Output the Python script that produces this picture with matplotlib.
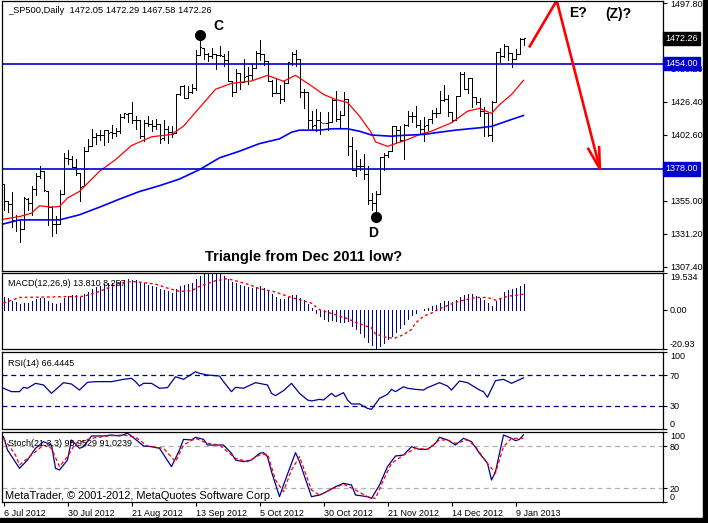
import matplotlib
matplotlib.use('Agg')
from matplotlib import pyplot as plt
from matplotlib.patches import Rectangle
import numpy as np

plt.rcParams['font.family'] = ['Liberation Sans', 'DejaVu Sans']

FIG_W, FIG_H = 708, 523

## daily bars, 6 Jul 2012 .. 11 Jan 2013
opens = [1367.09, 1354.66, 1352.96, 1341.40, 1341.29, 1334.81, 1356.50, 1353.68, 1363.58, 1373.01,
         1376.51, 1362.34, 1350.52, 1338.35, 1338.17, 1360.05, 1385.94, 1385.27, 1379.32, 1375.13,
         1365.45, 1391.04, 1394.46, 1401.23, 1402.26, 1402.58, 1405.87, 1404.36, 1403.89, 1405.57,
         1415.84, 1417.85, 1418.13, 1413.09, 1413.49, 1401.99, 1411.13, 1410.44, 1409.32, 1410.08,
         1400.07, 1406.54, 1404.94, 1403.74, 1432.12, 1437.92, 1429.13, 1433.56, 1436.56, 1460.07,
         1465.42, 1461.19, 1459.50, 1461.05, 1460.34, 1459.76, 1456.94, 1441.60, 1433.36, 1447.13,
         1440.90, 1444.99, 1446.05, 1451.08, 1461.40, 1460.93, 1455.90, 1441.48, 1432.82, 1432.84,
         1428.75, 1440.31, 1454.22, 1460.94, 1457.34, 1433.21, 1433.74, 1413.20, 1409.74, 1412.97,
         1411.50, 1410.99, 1412.20, 1427.59, 1414.02, 1417.26, 1428.27, 1394.53, 1377.55, 1379.86,
         1380.03, 1374.64, 1355.41, 1353.36, 1359.88, 1386.82, 1387.79, 1391.03, 1409.15, 1406.29,
         1398.77, 1409.96, 1415.95, 1416.34, 1409.46, 1407.05, 1409.43, 1413.95, 1418.07, 1418.55,
         1427.84, 1428.48, 1419.45, 1413.54, 1430.47, 1446.79, 1435.81, 1443.67, 1430.15, 1426.66,
         1419.83, 1418.10, 1402.43, 1426.19, 1462.42, 1459.37, 1466.47, 1461.89, 1457.15, 1461.02,
         1472.05]
highs = [1367.09, 1354.87, 1361.54, 1345.00, 1341.29, 1357.70, 1357.26, 1365.36, 1375.26, 1380.39,
         1376.51, 1362.34, 1351.53, 1343.98, 1363.13, 1389.19, 1391.74, 1387.16, 1385.03, 1375.13,
         1394.16, 1399.63, 1407.14, 1404.14, 1405.95, 1405.98, 1405.87, 1410.03, 1407.73, 1417.44,
         1418.71, 1418.13, 1426.68, 1416.12, 1413.49, 1413.46, 1416.17, 1413.63, 1413.95, 1410.08,
         1413.09, 1409.31, 1408.81, 1432.12, 1437.92, 1438.74, 1437.76, 1439.15, 1463.76, 1474.51,
         1465.63, 1461.47, 1465.15, 1461.23, 1467.07, 1460.72, 1463.24, 1441.60, 1450.20, 1447.13,
         1457.14, 1451.52, 1454.30, 1463.14, 1470.96, 1460.93, 1455.90, 1442.52, 1443.90, 1438.43,
         1441.31, 1455.51, 1462.20, 1464.02, 1457.34, 1435.46, 1433.74, 1420.04, 1421.12, 1418.82,
         1411.50, 1418.76, 1428.35, 1434.27, 1419.90, 1433.38, 1428.27, 1401.23, 1391.39, 1384.87,
         1388.81, 1380.13, 1360.62, 1362.03, 1386.89, 1389.77, 1391.25, 1409.16, 1409.15, 1409.01,
         1410.31, 1419.70, 1418.86, 1423.73, 1413.14, 1415.56, 1413.95, 1420.34, 1421.64, 1434.27,
         1438.59, 1431.36, 1419.45, 1430.67, 1448.00, 1447.75, 1443.70, 1443.67, 1430.15, 1429.42,
         1422.80, 1418.10, 1426.74, 1462.43, 1465.47, 1467.94, 1466.47, 1461.89, 1464.73, 1472.30,
         1472.29]
lows = [1348.03, 1346.65, 1336.27, 1333.25, 1325.41, 1334.81, 1348.51, 1345.07, 1358.96, 1371.21,
        1362.19, 1337.56, 1329.24, 1331.50, 1338.17, 1360.05, 1381.37, 1379.17, 1373.35, 1354.65,
        1365.45, 1391.04, 1394.46, 1396.13, 1398.80, 1395.62, 1397.32, 1400.60, 1401.83, 1404.15,
        1414.67, 1412.12, 1410.86, 1406.78, 1400.50, 1398.04, 1409.11, 1405.59, 1406.57, 1397.01,
        1398.96, 1396.56, 1401.25, 1403.74, 1431.45, 1428.98, 1429.13, 1432.99, 1435.34, 1460.07,
        1457.55, 1456.13, 1457.88, 1449.98, 1459.51, 1452.06, 1441.59, 1430.53, 1433.36, 1435.60,
        1440.90, 1439.01, 1441.99, 1451.08, 1456.89, 1453.10, 1441.18, 1430.64, 1432.82, 1425.53,
        1427.24, 1440.31, 1453.35, 1452.63, 1429.85, 1422.06, 1407.56, 1407.10, 1405.14, 1403.28,
        1411.50, 1405.95, 1412.20, 1412.91, 1408.13, 1417.26, 1388.14, 1377.51, 1373.03, 1377.19,
        1370.78, 1352.50, 1348.05, 1343.35, 1359.88, 1377.04, 1386.39, 1391.03, 1397.68, 1398.03,
        1385.43, 1409.04, 1411.63, 1408.46, 1403.65, 1398.23, 1405.93, 1410.90, 1415.64, 1418.55,
        1426.76, 1416.00, 1411.88, 1413.54, 1430.47, 1435.80, 1432.82, 1422.58, 1424.66, 1416.43,
        1401.80, 1401.58, 1398.11, 1426.19, 1455.53, 1458.99, 1456.62, 1451.64, 1457.15, 1461.02,
        1467.58]
closes = [1354.68, 1352.46, 1341.47, 1341.45, 1334.76, 1356.78, 1353.64, 1363.67, 1372.78, 1376.51,
          1362.66, 1350.52, 1338.31, 1337.89, 1360.02, 1385.97, 1385.30, 1379.32, 1375.32, 1365.00,
          1390.99, 1394.23, 1401.35, 1402.22, 1402.80, 1405.87, 1404.11, 1403.93, 1405.53, 1415.51,
          1418.16, 1418.13, 1413.17, 1413.49, 1402.08, 1411.13, 1410.44, 1409.30, 1410.49, 1399.48,
          1406.58, 1404.94, 1403.44, 1432.12, 1437.92, 1429.08, 1433.56, 1436.56, 1459.99, 1465.77,
          1461.19, 1459.32, 1461.05, 1460.26, 1460.15, 1456.89, 1441.59, 1433.32, 1447.15, 1440.67,
          1444.49, 1445.75, 1450.99, 1461.40, 1460.93, 1455.88, 1441.48, 1432.56, 1432.84, 1428.59,
          1440.13, 1454.92, 1460.91, 1457.34, 1433.19, 1433.82, 1413.11, 1408.75, 1412.97, 1411.94,
          1411.50, 1412.16, 1427.59, 1414.20, 1417.26, 1428.39, 1394.53, 1377.51, 1379.85, 1380.03,
          1374.53, 1355.49, 1353.33, 1359.88, 1386.89, 1387.81, 1391.03, 1409.15, 1406.29, 1398.94,
          1409.93, 1415.95, 1416.18, 1409.46, 1407.05, 1409.28, 1413.94, 1418.07, 1418.55, 1427.84,
          1428.48, 1419.45, 1413.58, 1430.36, 1446.79, 1435.81, 1443.69, 1430.15, 1426.66, 1419.83,
          1418.10, 1402.43, 1426.19, 1462.42, 1459.37, 1466.47, 1461.89, 1457.15, 1461.02, 1472.12,
          1472.26]

## moving averages (bar index, value)
ma_red_bars = [0, 4, 7, 9, 12, 14, 16, 19, 24, 28, 32, 37, 42, 45, 49, 53, 57, 62, 66, 70, 73, 77,
               80, 83, 86, 89, 92, 93, 96, 101, 104, 107, 112, 116, 119, 122, 124, 127, 130]
ma_red = [1341.7, 1343.6, 1346.1, 1351.4, 1350.4, 1350.9, 1357.0, 1361.8, 1376.3, 1384.7, 1394.9,
          1401.2, 1402.9, 1408.9, 1422.2, 1435.5, 1439.8, 1441.5, 1445.6, 1441.3, 1445.6, 1437.9,
          1431.8, 1428.2, 1426.0, 1416.1, 1404.0, 1397.5, 1394.3, 1399.2, 1402.8, 1405.3, 1411.3,
          1419.7, 1421.7, 1418.1, 1424.4, 1431.7, 1442.0]
ma_blue_bars = [0, 4, 14, 19, 24, 29, 34, 39, 44, 49, 54, 59, 64, 69, 72, 74, 79, 82, 86, 89, 92,
                97, 99, 105, 109, 113, 119, 122, 127, 130]
ma_blue = [1338.3, 1341.2, 1341.2, 1344.9, 1350.4, 1356.2, 1361.7, 1365.9, 1370.7, 1377.5, 1386.0,
           1390.8, 1396.3, 1399.7, 1404.5, 1406.0, 1406.0, 1407.0, 1407.0, 1405.2, 1402.5, 1401.6,
           1402.1, 1402.9, 1404.5, 1406.0, 1407.7, 1408.7, 1413.7, 1416.6]

## levels and projection drawn on the chart
level_prices = [1454.00, 1378.00]
proj_bars = [131.4, 138.3, 149.1]
proj_prices = [1465.7, 1499.6, 1378.0]
wing_bars = [146.2, 149.1, 148.9]
wing_prices = [1392.5, 1378.0, 1393.7]

## MACD(12,26,9)
macd = [7.0, 6.0, 4.8, 4.0, 3.0, 3.6, 3.8, 4.5, 5.5, 6.3,
        6.0, 4.8, 3.6, 2.8, 3.8, 6.0, 7.2, 7.7, 7.7, 7.0,
        8.3, 9.6, 11.0, 12.0, 12.8, 13.6, 14.0, 14.3, 14.6, 15.4,
        16.0, 16.2, 16.0, 15.6, 14.4, 14.0, 13.4, 12.8, 12.3, 11.0,
        10.5, 9.8, 9.0, 10.8, 12.5, 13.0, 13.6, 14.2, 16.3, 18.2,
        19.0, 19.4, 19.534, 19.3, 18.9, 18.2, 16.6, 14.8, 14.4, 13.3,
        12.6, 12.0, 11.8, 12.3, 12.4, 11.8, 10.2, 8.3, 7.0, 5.6,
        5.6, 6.6, 7.6, 7.9, 6.2, 5.0, 2.8, 0.8, -1.5, -3.5,
        -5.0, -5.8, -5.5, -6.0, -6.3, -6.4, -6.0, -8.5, -10.5, -12.2,
        -14.3, -17.0, -19.0, -20.93, -19.5, -17.5, -15.5, -14.0, -12.0, -9.5,
        -7.5, -5.0, -3.0, -1.5, -0.4, 0.3, 0.9, 1.8, 2.7, 3.5,
        4.4, 4.4, 4.0, 5.0, 6.6, 8.0, 8.3, 8.3, 7.1, 6.2,
        5.3, 3.5, 2.1, 4.4, 5.5, 9.4, 10.3, 11.0, 11.5, 12.4,
        13.81]
signal_bars = [0, 4, 20, 24, 27, 29, 32, 34, 38, 41, 44, 47, 49, 53, 56, 58, 61, 64, 68, 71, 74, 77,
               79, 83, 86, 88, 92, 93, 96, 98, 100, 102, 103, 105, 107, 109, 113, 115, 118, 121, 123,
               126, 130]
signal = [3.5, 6.5, 7.1, 9.7, 12.4, 14.2, 15.0, 14.7, 13.6, 11.5, 9.7, 10.1, 12.4, 15.4, 16.5, 15.4,
          13.6, 11.2, 9.4, 7.1, 5.3, 3.5, 0.0, -2.7, -4.8, -6.7, -9.7, -12.9, -15.0, -15.0, -13.3,
          -10.6, -7.1, -3.5, -1.8, 0.5, 3.9, 5.0, 6.5, 6.5, 5.1, 7.1, 8.257]

## RSI(14)
rsi_bars = [0, 2, 4, 5, 6, 8, 10, 12, 15, 17, 19, 21, 23, 27, 30, 32, 33, 34, 35, 37, 39, 41, 43,
            45, 48, 49, 51, 54, 55, 57, 58, 60, 63, 66, 67, 68, 70, 72, 74, 76, 77, 79, 80, 82, 83,
            85, 86, 87, 89, 91, 92, 94, 96, 97, 98, 100, 101, 103, 105, 106, 109, 111, 112, 114,
            116, 119, 120, 121, 123, 125, 127, 130]
rsi = [52.9, 48.5, 48.5, 54.1, 52.9, 59.3, 57.2, 46.3, 60.2, 58.4, 50.6, 60.6, 61.5, 61.5, 64.5,
       65.8, 61.5, 55.8, 59.3, 59.3, 52.9, 53.7, 67.9, 64.5, 74.4, 72.3, 70.1, 68.8, 61.5, 48.5,
       54.1, 52.9, 60.2, 57.2, 46.3, 43.3, 49.8, 59.3, 46.3, 37.7, 36.4, 38.5, 37.7, 46.3, 42.0,
       47.2, 37.7, 32.5, 32.5, 26.8, 25.5, 39.8, 45.0, 51.5, 48.5, 54.9, 52.9, 51.5, 50.6, 53.7,
       60.2, 55.8, 50.6, 62.3, 60.2, 50.6, 48.5, 41.2, 62.8, 64.5, 59.3, 66.4445]

## Stochastic(21,3,3)
k_bars = [0, 1, 4, 6, 8, 10, 12, 13, 14, 16, 17, 19, 20, 22, 25, 27, 29, 31, 32, 35, 37, 39, 42,
          44, 45, 47, 48, 50, 51, 53, 55, 57, 58, 60, 62, 64, 65, 66, 67, 69, 70, 73, 74, 77, 79,
          80, 83, 85, 87, 88, 91, 92, 94, 96, 98, 100, 102, 104, 106, 108, 109, 111, 113, 114,
          115, 117, 119, 121, 122, 123, 125, 127, 128, 129, 130]
k_vals = [93.3, 74.3, 48.1, 60.0, 76.7, 86.2, 81.4, 48.1, 45.7, 60.0, 88.6, 76.7, 79.0, 94.3, 94.3,
          95.7, 94.3, 98.1, 94.3, 80.0, 79.0, 76.7, 50.5, 74.3, 89.5, 88.6, 92.4, 89.5, 81.4, 81.4,
          81.4, 69.5, 60.0, 57.6, 60.0, 69.5, 70.5, 64.8, 43.3, 7.6, 24.3, 70.5, 57.6, 7.6, 10.0,
          12.4, 21.9, 26.7, 24.3, 10.0, 7.6, 5.2, 24.3, 50.5, 65.7, 67.1, 79.0, 75.2, 75.2, 83.8,
          92.4, 88.6, 81.4, 86.2, 91.0, 86.2, 69.5, 55.2, 31.4, 43.3, 95.7, 91.0, 87.6, 89.5, 95.9529]
d_bars = [0, 3, 4, 7, 10, 12, 14, 16, 18, 22, 26, 30, 33, 36, 40, 43, 45, 48, 51, 54, 58, 61, 64,
          66, 68, 70, 72, 74, 77, 79, 82, 85, 88, 91, 93, 95, 97, 100, 103, 106, 109, 111, 113,
          116, 118, 121, 123, 125, 127, 130]
d_vals = [91.0, 67.1, 52.9, 67.1, 81.4, 76.7, 50.5, 64.8, 83.8, 91.0, 94.3, 95.7, 92.4, 80.0, 76.7,
          57.6, 81.4, 91.0, 83.8, 81.4, 62.4, 57.6, 67.1, 68.6, 31.4, 14.8, 45.7, 64.8, 17.1, 10.0,
          18.1, 25.7, 17.1, 7.6, 5.2, 31.4, 55.2, 67.1, 76.7, 75.2, 88.6, 88.6, 83.8, 88.6, 79.0,
          55.2, 41.0, 79.0, 91.0, 91.0239]

date_bars = [0, 16, 32, 48, 64, 80, 96, 112, 128]
date_labels = ['6 Jul 2012', '30 Jul 2012', '21 Aug 2012', '13 Sep 2012', '5 Oct 2012',
               '30 Oct 2012', '21 Nov 2012', '14 Dec 2012', '9 Jan 2013']

FS = 6.5
LW1 = 0.7   # one screen pixel


def panel(top, bottom, left=2, right=663):
    a = fig.add_axes([left / FIG_W, 1 - bottom / FIG_H, (right - left) / FIG_W, (bottom - top) / FIG_H])
    a.set_xlim(-0.375, 164.875)
    a.set_xticks([])
    a.yaxis.tick_right()
    a.tick_params(axis='y', direction='out', length=3, width=0.8, pad=2, labelsize=FS)
    for s in a.spines.values():
        s.set_linewidth(0.9)
    return a


def edge_labels(a):
    labs = a.get_yticklabels()
    labs[0].set_verticalalignment('bottom')
    labs[-1].set_verticalalignment('top')


fig = plt.figure(figsize=(FIG_W / 100, FIG_H / 100), dpi=100)

x = np.arange(len(closes))

## Main price panel
ax = panel(1, 271)
ax.set_ylim(1304.3, 1499.25)
bar_cols = ['#00c000' if h == l else 'black' for h, l in zip(highs, lows)]
ax.vlines(x, lows, highs, colors=bar_cols, lw=LW1, antialiased=False)
ax.hlines(opens, x - 0.45, x, colors=bar_cols, lw=LW1, antialiased=False)
ax.hlines(closes, x, x + 0.45, colors=bar_cols, lw=LW1, antialiased=False)
ax.plot(ma_red_bars, ma_red, color='red', lw=0.9)
ax.plot(ma_blue_bars, ma_blue, color='#0000ff', lw=1.2)
for p in level_prices:
    ax.axhline(p, color='#0000cd', lw=1.2)
ax.plot(proj_bars, proj_prices, color='red', lw=1.9, solid_capstyle='butt')
ax.plot(wing_bars, wing_prices, color='red', lw=1.9)

ax.plot([49], [highs[49]], 'o', color='black', ms=7)
ax.plot([93], [lows[93]], 'o', color='black', ms=7)
ax.text(53.6, 1481.4, 'C', fontsize=10, fontweight='bold', ha='center', va='center')
ax.text(92.4, 1331.8, 'D', fontsize=10, fontweight='bold', ha='center', va='center')
ax.text(143.6, 1490.6, 'E?', fontsize=10, fontweight='bold', ha='center', va='center')
ax.text(153.6, 1489.8, '(Z)?', fontsize=10, fontweight='bold', ha='center', va='center')
ax.text(75.1, 1314.4, 'Triangle from Dec 2011 low?', fontsize=10.5, fontweight='bold',
        ha='center', va='center')

# 1474.00 and 1378.80 sit under the price boxes, so they are left out
main_ticks = [1307.40, 1331.20, 1355.00, 1402.60, 1426.40, 1450.20, 1497.80]
ax.set_yticks(main_ticks)
ax.set_yticklabels(['%.2f' % t for t in main_ticks])
ytr = ax.get_yaxis_transform()
ax.text(1.003, closes[-1], '%.2f' % closes[-1], transform=ytr, fontsize=FS, color='white',
        ha='left', va='center', zorder=20, clip_on=False,
        bbox=dict(boxstyle='square,pad=0.25', fc='black', ec='black'))
for p in level_prices:
    ax.text(1.003, p, '%.2f' % p, transform=ytr, fontsize=FS, color='white', ha='left',
            va='center', zorder=20, clip_on=False,
            bbox=dict(boxstyle='square,pad=0.25', fc='#0000cd', ec='#0000cd'))
ax.text(0.009, 0.963, '_SP500,Daily  %.2f %.2f %.2f %.2f' % (opens[-1], highs[-1], lows[-1], closes[-1]),
        transform=ax.transAxes, fontsize=6.7, va='center')

## MACD panel
ax2 = panel(273, 349)
ax2.set_ylim(-20.93, 19.534)
ax2.vlines(x, 0, macd, colors='#000080', lw=LW1, antialiased=False)
ax2.plot(signal_bars, signal, color='red', lw=1.0, ls=(0, (2, 2)))
ax2.set_yticks([-20.93, 0, 19.534])
ax2.set_yticklabels(['-20.93', '0.00', '19.534'])
edge_labels(ax2)
ax2.text(0.009, 0.86, 'MACD(12,26,9) %.3f %.3f' % (macd[-1], signal[-1]), transform=ax2.transAxes,
         fontsize=FS, va='center')

## RSI panel
ax3 = panel(352, 429)
ax3.set_ylim(0, 100)
for lv in (70, 30):
    ax3.axhline(lv, color='#000080', lw=0.9, ls=(0, (4, 3)))
ax3.plot(rsi_bars, rsi, color='#000099', lw=0.9)
ax3.set_yticks([0, 30, 70, 100])
ax3.set_yticklabels(['0', '30', '70', '100'])
edge_labels(ax3)
ax3.text(0.009, 0.85, 'RSI(14) %.4f' % rsi[-1], transform=ax3.transAxes, fontsize=FS, va='center')

## Stochastic panel
ax4 = panel(432, 502)
ax4.set_ylim(0, 100)
for lv in (80, 20):
    ax4.axhline(lv, color='#b0b0b0', lw=0.9, ls=(0, (4, 3)))
ax4.plot(k_bars, k_vals, color='#000099', lw=0.9)
ax4.plot(d_bars, d_vals, color='red', lw=0.9, ls=(0, (3, 2)))
ax4.set_yticks([0, 20, 80, 100])
ax4.set_yticklabels(['0', '20', '80', '100'])
edge_labels(ax4)
ax4.text(0.009, 0.84, 'Stoch(21,3,3) %.4f %.4f' % (k_vals[-1], d_vals[-1]), transform=ax4.transAxes,
         fontsize=FS, va='center')
ax4.text(0.004, 0.09, 'MetaTrader, \u00a9 2001-2012, MetaQuotes Software Corp.', transform=ax4.transAxes,
         fontsize=7.9, va='center')
ax4.set_xticks(date_bars)
ax4.set_xticklabels(date_labels)
ax4.tick_params(axis='x', direction='out', length=3, width=0.8, pad=2, labelsize=FS)
for lab in ax4.get_xticklabels():
    lab.set_horizontalalignment('left')

## window edge shadow
fig.patches.append(Rectangle((703 / FIG_W, 0), 5 / FIG_W, 1, transform=fig.transFigure,
                             color='black', zorder=0))
fig.patches.append(Rectangle((0, 0), 1, 5 / FIG_H, transform=fig.transFigure, color='black', zorder=0))

fig.savefig('out.png', dpi=100)
